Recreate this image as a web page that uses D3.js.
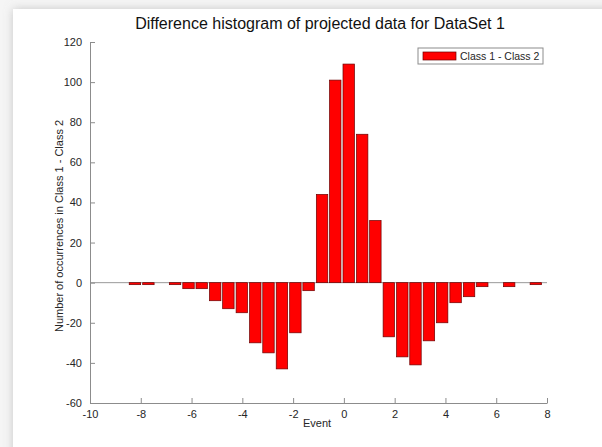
<!DOCTYPE html>
<html>
<head>
<meta charset="utf-8">
<script src="https://cdn.jsdelivr.net/npm/d3@7/dist/d3.min.js"></script>
<style>
  html, body { margin: 0; padding: 0; background: #f2f2f2; }
  svg { display: block; }
  text { font-family: "Liberation Sans", Arial, sans-serif; }
</style>
</head>
<body>
<svg id="chart" width="602" height="447"></svg>
<script>
// Histogram bin centres (Event) and the count difference in each bin
const binCenters = [-8.23, -7.70, -7.18, -6.65, -6.12, -5.60, -5.07, -4.55, -4.02, -3.49,
                    -2.97, -2.44, -1.91, -1.39, -0.86, -0.34, 0.19, 0.72, 1.24, 1.77,
                    2.30, 2.82, 3.35, 3.87, 4.40, 4.93, 5.45, 5.98, 6.51, 7.03, 7.56];
const diffCounts = [-1, -1, 0, -1, -3, -3, -9, -13, -15, -30,
                    -35, -43, -25, -4, 44, 101, 109, 74, 31, -27,
                    -37, -41, -29, -20, -10, -7, -2, 0, -2, 0, -1];
const xTicks = [-10, -8, -6, -4, -2, 0, 2, 4, 6, 8];
const yTicks = [-60, -40, -20, 0, 20, 40, 60, 80, 100, 120];
const seriesName = "Class 1 - Class 2";

const svg = d3.select("#chart");
const W = 602, H = 447;

// figure panel with a soft shadow
const defs = svg.append("defs");
const f = defs.append("filter").attr("id", "shadow")
  .attr("x", "-10%").attr("y", "-10%").attr("width", "130%").attr("height", "130%");
f.append("feDropShadow").attr("dx", 0).attr("dy", 0).attr("stdDeviation", 5)
  .attr("flood-color", "#9a9a9a").attr("flood-opacity", 0.5);
svg.append("rect").attr("x", 0).attr("y", 0).attr("width", W).attr("height", H).attr("fill", "#f5f5f5");
svg.append("rect").attr("x", 13).attr("y", 9).attr("width", W + 20).attr("height", H + 20)
  .attr("fill", "#ffffff").attr("filter", "url(#shadow)");

const x = d3.scaleLinear().domain([-10, 8]).range([90, 547]);
const y = d3.scaleLinear().domain([-60, 120]).range([403, 42]);

const step = binCenters[1] - binCenters[0];
const barW = (x(step) - x(0)) * 0.85;

const axisColor = "#8c8c8c";
const textColor = "#262626";
const plain = d => String(d);   // hyphen-minus labels

// baseline at zero
svg.append("line")
  .attr("x1", x(-10)).attr("x2", x(8))
  .attr("y1", y(0)).attr("y2", y(0))
  .attr("stroke", "#9a9a9a").attr("stroke-width", 1);

// bars
const data = binCenters.map((c, i) => ({ c, v: diffCounts[i] })).filter(d => d.v !== 0);
svg.append("g").selectAll("rect").data(data).join("rect")
  .attr("x", d => x(d.c) - barW / 2)
  .attr("width", barW)
  .attr("y", d => Math.min(y(d.v), y(0)))
  .attr("height", d => Math.abs(y(d.v) - y(0)))
  .attr("fill", "#ff0000")
  .attr("stroke", "#6a0000")
  .attr("stroke-width", 0.7);

// axes (ticks point inward)
const xAxis = d3.axisBottom(x).tickValues(xTicks).tickFormat(plain)
  .tickSizeInner(-5).tickSizeOuter(0).tickPadding(9);
const gx = svg.append("g").attr("transform", `translate(0,${y(-60)})`).call(xAxis);
const yAxis = d3.axisLeft(y).tickValues(yTicks).tickFormat(plain)
  .tickSizeInner(-5).tickSizeOuter(0).tickPadding(8);
const gy = svg.append("g").attr("transform", `translate(${x(-10)},0)`).call(yAxis);
[gx, gy].forEach(g => {
  g.select(".domain").attr("stroke", axisColor);
  g.selectAll(".tick line").attr("stroke", axisColor);
  g.selectAll(".tick text").attr("fill", textColor)
    .style("font-family", "'Liberation Sans', Arial, sans-serif").style("font-size", "11px");
});
gx.selectAll(".tick text").attr("dy", "0.5em");

// title and axis labels
svg.append("text").attr("x", 320).attr("y", 29).attr("text-anchor", "middle")
  .attr("fill", "#111").style("font-size", "16px")
  .text("Difference histogram of projected data for DataSet 1");
svg.append("text").attr("x", 317).attr("y", 427).attr("text-anchor", "middle")
  .attr("fill", textColor).style("font-size", "11px").text("Event");
svg.append("text").attr("transform", `translate(63,226) rotate(-90)`).attr("text-anchor", "middle")
  .attr("fill", textColor).style("font-size", "11px")
  .text("Number of occurrences in Class 1 - Class 2");

// legend
const lg = svg.append("g").attr("transform", "translate(418,48)");
lg.append("rect").attr("x", 0).attr("y", 0).attr("width", 125).attr("height", 16)
  .attr("fill", "#fff").attr("stroke", "#8c8c8c").attr("stroke-width", 1);
lg.append("rect").attr("x", 5).attr("y", 4).attr("width", 33).attr("height", 8)
  .attr("fill", "#ff0000").attr("stroke", "#6a0000").attr("stroke-width", 0.7);
lg.append("text").attr("x", 42).attr("y", 12).attr("fill", textColor)
  .style("font-size", "10.5px").text(seriesName);
</script>
</body>
</html>
